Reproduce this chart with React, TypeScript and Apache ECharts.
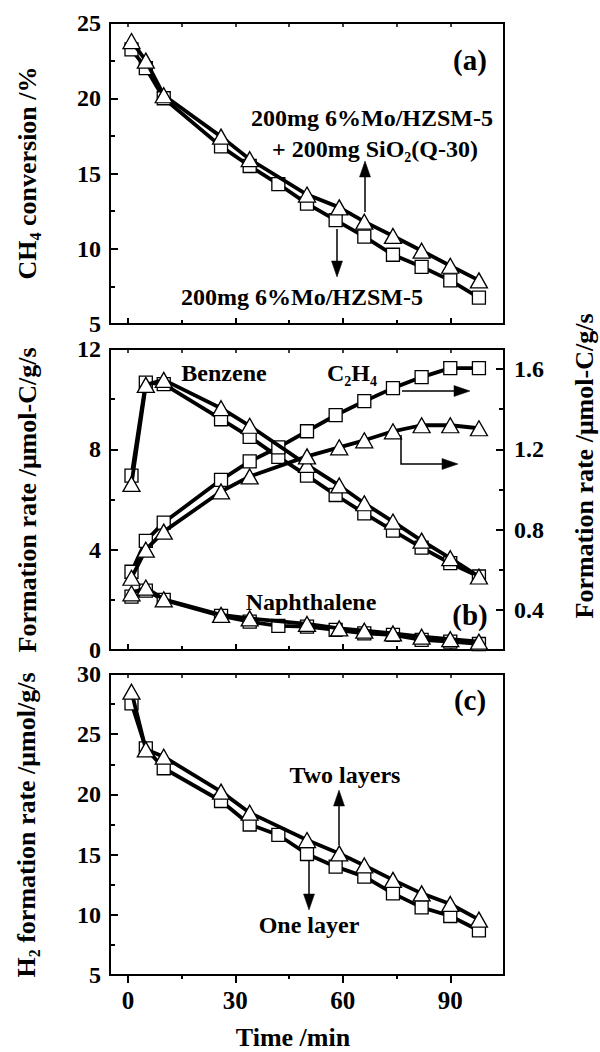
import { useEffect, useRef } from "react";
import * as echarts from "echarts";

// Sampling times (min): square-marker runs and triangle-marker runs
const TIME_SQ = [1, 5, 10, 26, 34, 42, 50, 58, 66, 74, 82, 90, 98];
const TIME_TRI = [1, 5, 10, 26, 34, 50, 59, 66, 74, 82, 90, 98];

// (a) CH4 conversion, %
const CH4_ONE = [23.25, 22.0, 20.0, 16.8, 15.5, 14.3, 13.0, 11.9, 10.8, 9.6, 8.8, 7.9, 6.75];
const CH4_TWO = [23.8, 22.5, 20.2, 17.45, 15.95, 13.6, 12.75, 11.8, 10.85, 9.87, 8.87, 7.9];

// (b) formation rates, umol-C/g/s (C2H4 on the right axis)
const BENZ_SQ = [6.95, 10.66, 10.6, 9.2, 8.5, 7.7, 6.95, 6.18, 5.45, 4.76, 4.08, 3.46, 2.93];
const BENZ_TRI = [6.62, 10.57, 10.77, 9.64, 8.94, 7.38, 6.56, 5.85, 5.12, 4.36, 3.66, 2.93];
const C2H4_SQ = [0.59, 0.744, 0.835, 1.048, 1.14, 1.21, 1.29, 1.37, 1.44, 1.505, 1.56, 1.605, 1.605];
const C2H4_TRI = [0.56, 0.7, 0.79, 0.99, 1.065, 1.165, 1.21, 1.245, 1.29, 1.32, 1.32, 1.305];
const NAPH_SQ = [2.13, 2.37, 2.0, 1.36, 1.13, 0.96, 0.93, 0.8, 0.66, 0.6, 0.4, 0.33, 0.24];
const NAPH_TRI = [2.26, 2.49, 2.02, 1.4, 1.26, 1.04, 0.86, 0.77, 0.66, 0.53, 0.43, 0.33];

// (c) H2 formation rate, umol/g/s
const H2_ONE = [27.56, 23.83, 22.17, 19.45, 17.5, 16.63, 15.05, 14.0, 13.17, 11.78, 10.62, 9.9, 8.7];
const H2_TWO = [28.53, 23.74, 23.13, 20.23, 18.48, 16.21, 15.1, 14.1, 12.9, 11.78, 10.9, 9.6];

// Tick labels
const X_LABELS = [0, 30, 60, 90];
const X_MINOR = [15, 45, 75];
const X_TOP = [0, 15, 30, 45, 60, 75, 90];
const RIGHT_LABELS = [0.4, 0.8, 1.2, 1.6];
const RIGHT_MINOR = [0.6, 1.0, 1.4];

const FONT = "Liberation Serif";
const BLACK = "#000";

const pairs = (t: number[], v: number[]) => v.map((y, i) => [t[i], y]);

const GRIDS = [
  { left: 110, top: 23, width: 394, height: 301 },
  { left: 110, top: 349, width: 394, height: 301 },
  { left: 110, top: 674, width: 394, height: 301 },
];

function xAxesFor(g: number) {
  const base = { gridIndex: g, type: "value", min: -5, max: 105, splitLine: { show: false } };
  const last = g === 2;
  return [
    {
      ...base,
      position: "bottom",
      axisLine: { show: true, onZero: false, lineStyle: { color: BLACK, width: 2 } },
      axisTick: { show: true, inside: !last, length: last ? 8 : 6, customValues: X_LABELS, lineStyle: { color: BLACK, width: 2 } },
      axisLabel: {
        show: last,
        customValues: X_LABELS,
        margin: 13,
        color: BLACK,
        fontFamily: FONT,
        fontWeight: "bold",
        fontSize: 25,
      },
    },
    {
      ...base,
      position: "bottom",
      axisLine: { show: false, onZero: false },
      axisTick: { show: true, inside: !last, length: 4, customValues: X_MINOR, lineStyle: { color: BLACK, width: 2 } },
      axisLabel: { show: false },
    },
    {
      ...base,
      position: "top",
      axisLine: { show: false, onZero: false },
      axisTick: { show: true, inside: true, length: 4, customValues: X_TOP, lineStyle: { color: BLACK, width: 1.5 } },
      axisLabel: { show: false },
    },
  ];
}

const yLabel = {
  color: BLACK,
  fontFamily: FONT,
  fontWeight: "bold",
  fontSize: 24,
  lineHeight: 22,
  margin: 9,
};

function leftY(g: number, min: number, max: number, interval: number) {
  return {
    gridIndex: g,
    type: "value",
    position: "left",
    min,
    max,
    interval,
    splitLine: { show: false },
    axisLine: { show: true, onZero: false, lineStyle: { color: BLACK, width: 2 } },
    axisTick: { show: true, inside: true, length: 8, lineStyle: { color: BLACK, width: 2 } },
    minorTick: { show: true, splitNumber: 2, length: 5, lineStyle: { color: BLACK, width: 2 } },
    axisLabel: yLabel,
  };
}

const Y_AXES = [
  leftY(0, 5, 25, 5),
  leftY(1, 0, 12, 4),
  {
    gridIndex: 1,
    type: "value",
    position: "right",
    min: 0.2,
    max: 1.7,
    splitLine: { show: false },
    axisLine: { show: true, onZero: false, lineStyle: { color: BLACK, width: 2 } },
    axisTick: { show: true, inside: true, length: 8, customValues: RIGHT_LABELS, lineStyle: { color: BLACK, width: 2 } },
    axisLabel: { ...yLabel, margin: 10, customValues: RIGHT_LABELS, formatter: (v: number) => v.toFixed(1) },
  },
  {
    gridIndex: 1,
    type: "value",
    position: "right",
    min: 0.2,
    max: 1.7,
    splitLine: { show: false },
    axisLine: { show: false, onZero: false },
    axisTick: { show: true, inside: true, length: 5, customValues: RIGHT_MINOR, lineStyle: { color: BLACK, width: 2 } },
    axisLabel: { show: false },
  },
  leftY(2, 5, 30, 5),
];

function run(name: string, g: number, yIdx: number, t: number[], v: number[], tri: boolean) {
  return {
    name,
    type: "line",
    xAxisIndex: g * 3,
    yAxisIndex: yIdx,
    data: pairs(t, v),
    symbol: tri ? "triangle" : "rect",
    symbolSize: tri ? [17, 15] : [13, 13],
    showSymbol: true,
    silent: true,
    lineStyle: { color: BLACK, width: 3.8 },
    itemStyle: { color: "#fff", borderColor: BLACK, borderWidth: 1.3 },
    z: tri ? 3 : 2,
  };
}

const SERIES = [
  run("200mg 6%Mo/HZSM-5", 0, 0, TIME_SQ, CH4_ONE, false),
  run("200mg 6%Mo/HZSM-5 + 200mg SiO2(Q-30)", 0, 0, TIME_TRI, CH4_TWO, true),
  run("Benzene, one layer", 1, 1, TIME_SQ, BENZ_SQ, false),
  run("Benzene, two layers", 1, 1, TIME_TRI, BENZ_TRI, true),
  run("Naphthalene, one layer", 1, 1, TIME_SQ, NAPH_SQ, false),
  run("Naphthalene, two layers", 1, 1, TIME_TRI, NAPH_TRI, true),
  run("C2H4, one layer", 1, 2, TIME_SQ, C2H4_SQ, false),
  run("C2H4, two layers", 1, 2, TIME_TRI, C2H4_TRI, true),
  run("One layer", 2, 4, TIME_SQ, H2_ONE, false),
  run("Two layers", 2, 4, TIME_TRI, H2_TWO, true),
];

function label(x: number, y: number, text: string, size = 24, extra: any = {}) {
  const sub = Math.round(size * 0.6);
  return {
    type: "text",
    x,
    y,
    z: 100,
    silent: true,
    ...extra,
    style: {
      text,
      fill: BLACK,
      fontFamily: FONT,
      fontWeight: "bold",
      fontSize: size,
      align: "center",
      verticalAlign: "middle",
      rich: {
        n: { fontFamily: FONT, fontWeight: "bold", fontSize: size, lineHeight: size + 6, fill: BLACK },
        s: { fontFamily: FONT, fontWeight: "bold", fontSize: sub, lineHeight: sub, verticalAlign: "bottom", fill: BLACK },
      },
    },
  };
}

function arrow(points: number[][], head = 16, half = 5.5) {
  const n = points.length;
  const [x2, y2] = points[n - 1];
  const [x1, y1] = points[n - 2];
  const len = Math.hypot(x2 - x1, y2 - y1);
  const ux = (x2 - x1) / len;
  const uy = (y2 - y1) / len;
  const bx = x2 - ux * head;
  const by = y2 - uy * head;
  return [
    {
      type: "polyline",
      z: 100,
      silent: true,
      shape: { points: points.slice(0, n - 1).concat([[bx, by]]) },
      style: { stroke: BLACK, lineWidth: 1.5, fill: null },
    },
    {
      type: "polygon",
      z: 100,
      silent: true,
      shape: { points: [[x2, y2], [bx - uy * half, by + ux * half], [bx + uy * half, by - ux * half]] },
      style: { fill: BLACK, stroke: BLACK, lineWidth: 0.5 },
    },
  ];
}

const ROT = Math.PI / 2;

const GRAPHICS = [
  // panel tags
  label(470, 60, "(a)", 29),
  label(470, 615, "(b)", 29),
  label(470, 700, "(c)", 29),
  // (a) annotations
  label(372, 118, "200mg 6%Mo/HZSM-5"),
  label(375, 149, "{n|+ 200mg SiO}{s|2}{n|(Q-30)}"),
  label(302, 297, "200mg 6%Mo/HZSM-5"),
  ...arrow([[365, 212], [365, 161]]),
  ...arrow([[337, 229], [337, 277]]),
  // (b) annotations
  label(224, 373, "Benzene"),
  label(352, 373, "{n|C}{s|2}{n|H}{s|4}"),
  label(311, 602, "Naphthalene"),
  ...arrow([[402, 391], [470, 391]]),
  ...arrow([[401, 435], [401, 464], [458, 464]]),
  // (c) annotations
  label(345, 775, "Two layers"),
  label(309, 925, "One layer"),
  ...arrow([[339, 845], [339, 790]]),
  ...arrow([[309, 861], [309, 910]]),
  // axis titles
  label(293, 1037, "Time /min", 26),
  label(27, 173, "{n|CH}{s|4}{n| conversion /%}", 26, { rotation: ROT }),
  label(27, 500, "Formation rate /μmol-C/g/s", 26, { rotation: ROT }),
  label(26, 825, "{n|H}{s|2}{n| formation rate /μmol/g/s}", 26, { rotation: ROT }),
  label(584, 466, "Formation rate /μmol-C/g/s", 26, { rotation: ROT }),
];

export default function App() {
  const ref = useRef<HTMLDivElement>(null);
  useEffect(() => {
    if (!ref.current) return;
    const chart = echarts.init(ref.current, null, { renderer: "svg" });
    chart.setOption({
      animation: false,
      backgroundColor: "#fff",
      grid: GRIDS.map((g) => ({ ...g, show: true, borderColor: BLACK, borderWidth: 2, backgroundColor: "transparent" })),
      xAxis: [0, 1, 2].flatMap((g) => xAxesFor(g)),
      yAxis: Y_AXES,
      series: SERIES,
      graphic: GRAPHICS,
    } as any);
    return () => chart.dispose();
  }, []);
  return (
    <div
      ref={ref}
      style={{ position: "fixed", left: 0, top: 0, width: 600, height: 1052, background: "#fff" }}
    />
  );
}
